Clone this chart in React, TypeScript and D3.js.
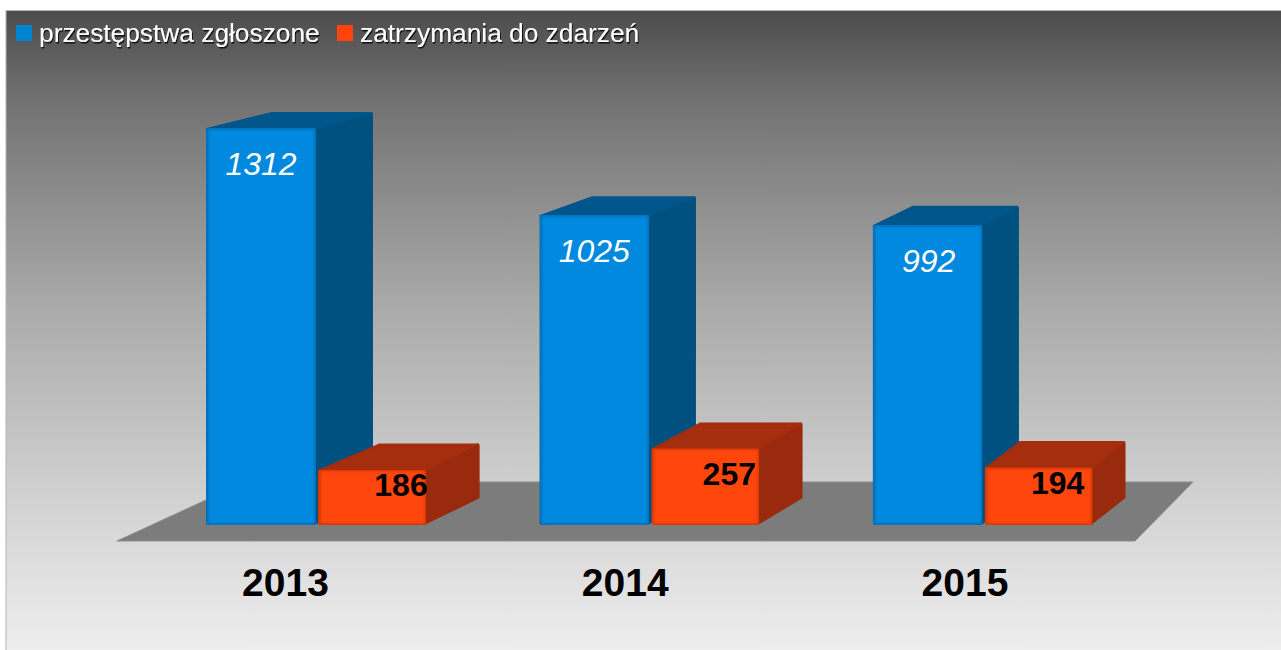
import React from "react";
import * as d3 from "d3";

const years = ["2013", "2014", "2015"];
const seriesNames = ["przestępstwa zgłoszone", "zatrzymania do zdarzeń"];
const reported = [1312, 1025, 992];
const detained = [186, 257, 194];

const W = 1281, H = 650;
const FONT = "'Liberation Sans', Arial, sans-serif";
const baseY = 525;
const y = d3.scaleLinear().domain([0, 1312]).range([baseY, 128]);
const xGroup = d3.scaleBand<string>().domain(years).range([206, 206 + 333.3 * 3]).padding(0).align(0);
const xSeries = d3.scaleBand<number>().domain([0, 1]).range([0, 224]);
const xLabel = d3.scalePoint<string>().domain(years).range([285.5, 965]);

const palette = [
  { edge: "#0072bd", front: "#0089de", side: "#00517f", top: "#00568a", id: "b" },
  { edge: "#d93a08", front: "#ff470b", side: "#992a08", top: "#a42d09", id: "o" },
];
const widths = [110, 108];
const topLift = [0, 1];
const orangeLabelDx = [29, 24, 19];
const orangeLabelDy = [27.3, 37.8, 27.7];

const dxL = (x: number) => 66 - 0.039 * (x - 206);
const dxR = (x: number) => 57 - 0.031 * (x - 316);
const depthDy = (h: number) => 28 - 0.03 * h;
const pts = (a: number[][]) => a.map((p) => p.join(",")).join(" ");

function Bar({ s, year, v }: { s: number; year: string; v: number }) {
  const c = palette[s];
  const x0 = xGroup(year)! + (s ? xSeries(1)! : 0);
  const x1 = x0 + widths[s];
  const top = y(v) + topLift[s];
  const h = baseY - top;
  const d = depthDy(h);
  const bd = 28;
  const clip = `f${s}${year}`;
  const bx = x1 + dxR(x1) - 2;
  return (
    <g>
      <g filter="url(#soft)" strokeLinejoin="round" strokeWidth={4}>
        <polygon points={pts([[x1 - 2, top + 2], [bx, top - d + 2], [bx, baseY - bd], [x1 - 2, baseY - 2]])} fill={c.side} stroke={c.side} />
      </g>
      <g filter="url(#soft)" strokeLinejoin="round" strokeWidth={2}>
        <polygon points={pts([[x0 + 1, top + 1], [x0 + dxL(x0), top - d + 1], [bx, top - d + 1], [x1 - 1, top + 1]])} fill={c.top} stroke={c.top} />
      </g>
      <clipPath id={clip}><rect x={x0} y={top} width={widths[s]} height={h} rx={2} /></clipPath>
      <g clipPath={`url(#${clip})`}>
        <rect x={x0} y={top} width={widths[s]} height={h} fill={c.edge} />
        <rect x={x0 + 3} y={top + 2} width={widths[s] - 5} height={h - 4} fill={c.front} filter="url(#edge)" />
      </g>
    </g>
  );
}

export default function App() {
  return (
    <svg width={W} height={H} viewBox={`0 0 ${W} ${H}`} style={{ position: "absolute", left: 0, top: 0, background: "#fff" }}>
      <defs>
        <linearGradient id="bg" x1="0" y1="0" x2="0" y2="1">
          <stop offset="0" stopColor="#4c4c4c" />
          <stop offset="0.15" stopColor="#747474" />
          <stop offset="0.45" stopColor="#a9a9a9" />
          <stop offset="0.77" stopColor="#d4d4d4" />
          <stop offset="1" stopColor="#efefef" />
        </linearGradient>
        <filter id="soft" x="-10%" y="-10%" width="120%" height="120%"><feGaussianBlur stdDeviation="0.6" /></filter>
        <filter id="edge" x="-10%" y="-10%" width="120%" height="120%"><feGaussianBlur stdDeviation="1.2" /></filter>
        <filter id="shadow" x="-5%" y="-20%" width="110%" height="150%">
          <feDropShadow dx="1" dy="1.5" stdDeviation="0.4" floodColor="#000" floodOpacity="0.85" />
        </filter>
      </defs>
      <rect x={6} y={10.5} width={W} height={H} fill="url(#bg)" stroke="#b4b4b4" strokeWidth={1} />
      <polygon points={pts([[117, 541], [1135, 541], [1193, 482], [245, 482]])} fill="#7c7c7c" stroke="#8c8c8c" strokeWidth={1} />

      {years.map((yr, i) => <Bar key={yr} s={0} year={yr} v={reported[i]} />)}
      {years.map((yr, i) => <Bar key={yr} s={1} year={yr} v={detained[i]} />)}

      {years.map((yr, i) => (
        <text key={yr} x={xGroup(yr)! + widths[0] / 2 + (i === 2 ? 1 : 0)} y={y(reported[i]) + 47} textAnchor="middle"
          fontFamily={FONT} fontStyle="italic" fontSize={32} fill="#fff">{reported[i]}</text>
      ))}
      {years.map((yr, i) => (
        <text key={yr} x={xGroup(yr)! + xSeries(1)! + widths[1] / 2 + orangeLabelDx[i]} y={y(detained[i]) + orangeLabelDy[i]} textAnchor="middle"
          fontFamily={FONT} fontWeight="bold" fontSize={32} fill="#000">{detained[i]}</text>
      ))}
      {years.map((yr) => (
        <text key={yr} x={xLabel(yr)} y={596} textAnchor="middle" fontFamily={FONT} fontWeight="bold" fontSize={39} fill="#000">{yr}</text>
      ))}

      {seriesNames.map((name, i) => {
        const sx = [16, 337][i];
        return (
          <g key={name}>
            <rect x={sx} y={25} width={16} height={16} fill={i ? "#ff420e" : "#0084d1"} />
            <text x={sx + 23} y={42} fontFamily={FONT} fontSize={26.3} fill="#fff" filter="url(#shadow)">{name}</text>
          </g>
        );
      })}
    </svg>
  );
}
